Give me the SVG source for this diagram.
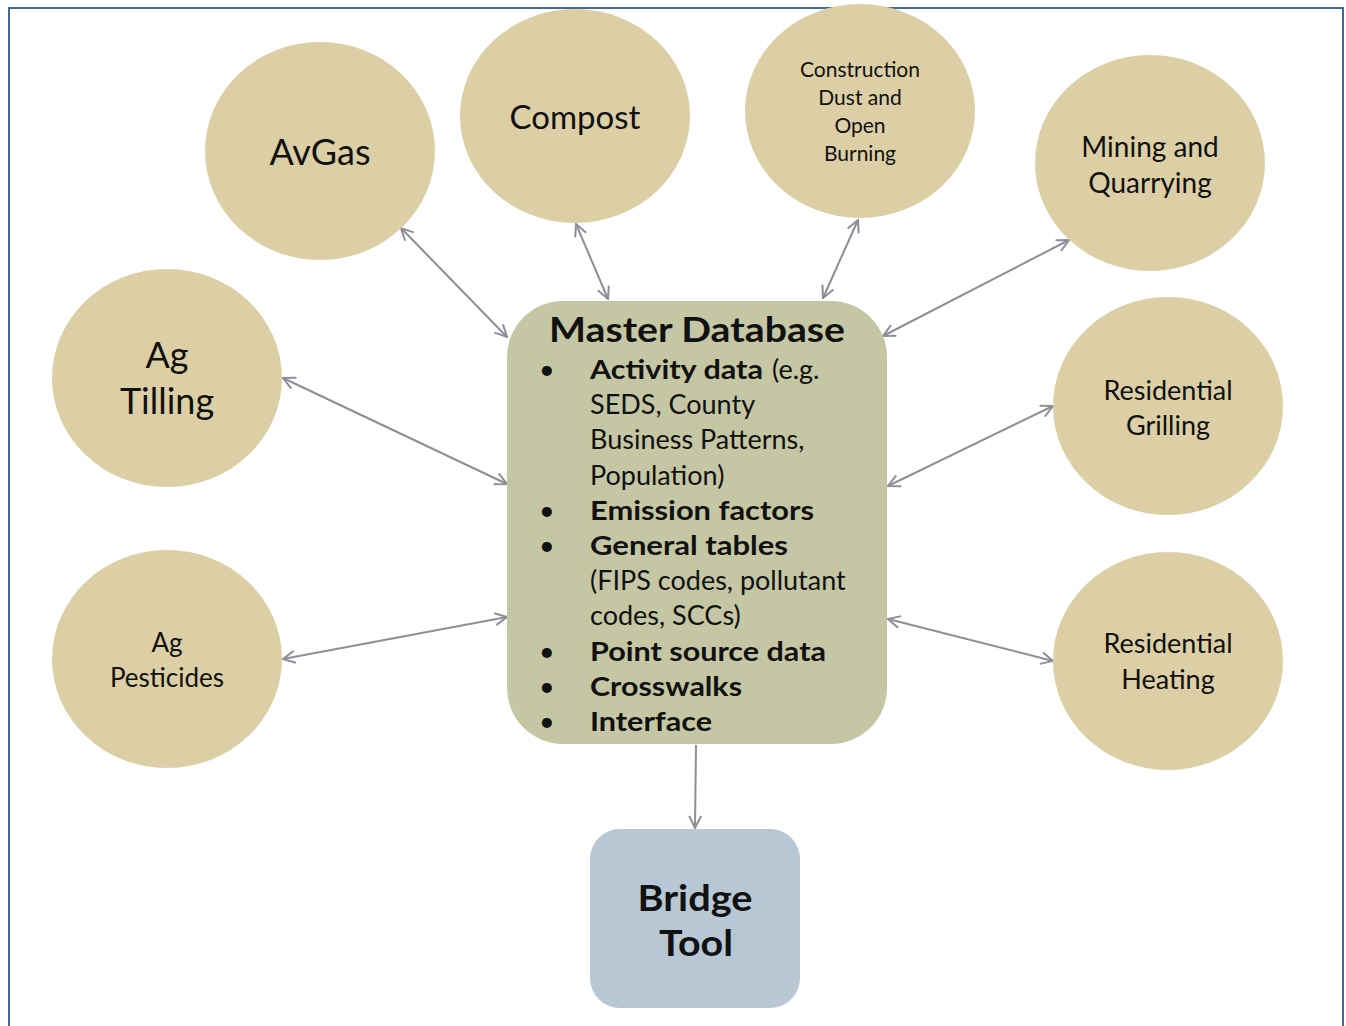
<svg xmlns="http://www.w3.org/2000/svg" width="1346" height="1026" viewBox="0 0 1346 1026">
<style>
.c{fill:#dccfa6}
.t{font-family:Lato,"Open Sans",sans-serif;fill:#111;text-anchor:middle}
.b{font-family:Lato,"Open Sans",sans-serif;fill:#111;font-size:27px}
.bb{font-weight:bold}
.ln{stroke:#8e8e96;stroke-width:2;fill:none}
</style>
<defs>
<marker id="ah" viewBox="0 0 14 14" refX="13" refY="7" markerWidth="14" markerHeight="14" markerUnits="userSpaceOnUse" orient="auto-start-reverse">
<path d="M1,1 L13,7 L1,13" fill="none" stroke="#8e8e96" stroke-width="2"/>
</marker>
</defs>
<rect width="1346" height="1026" fill="#fff"/>
<rect x="9" y="8" width="1334" height="1030" fill="none" stroke="#3f6a9e" stroke-width="2"/>
<g id="connectors">
<line class="ln" x1="401" y1="228" x2="507" y2="337" marker-start="url(#ah)" marker-end="url(#ah)"/>
<line class="ln" x1="576" y1="224" x2="608" y2="299" marker-start="url(#ah)" marker-end="url(#ah)"/>
<line class="ln" x1="858" y1="220" x2="823" y2="298" marker-start="url(#ah)" marker-end="url(#ah)"/>
<line class="ln" x1="1069" y1="240" x2="883" y2="336" marker-start="url(#ah)" marker-end="url(#ah)"/>
<line class="ln" x1="283" y1="378" x2="507" y2="484" marker-start="url(#ah)" marker-end="url(#ah)"/>
<line class="ln" x1="1053" y1="406" x2="888" y2="486" marker-start="url(#ah)" marker-end="url(#ah)"/>
<line class="ln" x1="283" y1="659" x2="507" y2="617" marker-start="url(#ah)" marker-end="url(#ah)"/>
<line class="ln" x1="1053" y1="661" x2="888" y2="619" marker-start="url(#ah)" marker-end="url(#ah)"/>
<line class="ln" x1="696" y1="745" x2="695" y2="828" marker-end="url(#ah)"/>
</g>
<g id="avgas"><ellipse class="c" cx="320" cy="151" rx="115" ry="109"/><text class="t" x="320" y="165" font-size="36">AvGas</text></g>
<g id="compost"><ellipse class="c" cx="575" cy="116" rx="115" ry="107"/><text class="t" x="575" y="129" font-size="33">Compost</text></g>
<g id="construction"><ellipse class="c" cx="860" cy="111" rx="115" ry="107"/>
<text class="t" font-size="21"><tspan x="860" y="77">Construction</tspan><tspan x="860" y="105">Dust and</tspan><tspan x="860" y="133">Open</tspan><tspan x="860" y="161">Burning</tspan></text></g>
<g id="mining"><ellipse class="c" cx="1150" cy="163" rx="115" ry="108"/>
<text class="t" font-size="28"><tspan x="1150" y="157">Mining and</tspan><tspan x="1150" y="193">Quarrying</tspan></text></g>
<g id="agtilling"><ellipse class="c" cx="167" cy="378" rx="115" ry="109"/>
<text class="t" font-size="36"><tspan x="167" y="368">Ag</tspan><tspan x="167" y="414">Tilling</tspan></text></g>
<g id="grilling"><ellipse class="c" cx="1168" cy="406" rx="115" ry="109"/>
<text class="t" font-size="27"><tspan x="1168" y="400">Residential</tspan><tspan x="1168" y="435">Grilling</tspan></text></g>
<g id="pesticides"><ellipse class="c" cx="167" cy="659" rx="115" ry="109"/>
<text class="t" font-size="26"><tspan x="167" y="652">Ag</tspan><tspan x="167" y="687">Pesticides</tspan></text></g>
<g id="heating"><ellipse class="c" cx="1168" cy="661" rx="115" ry="109"/>
<text class="t" font-size="27"><tspan x="1168" y="653">Residential</tspan><tspan x="1168" y="689">Heating</tspan></text></g>
<g id="master">
<rect x="507" y="301" width="380" height="443" rx="56" fill="#c5c6a3"/>
<text class="t bb" x="697" y="342" font-size="34" textLength="296" lengthAdjust="spacingAndGlyphs">Master Database</text>
<g class="b">
<text x="539" y="379">•</text><text x="590" y="379" class="bb" textLength="173" lengthAdjust="spacingAndGlyphs">Activity data</text><text x="772" y="379">(e.g.</text>
<text x="590" y="414">SEDS, County</text>
<text x="590" y="449">Business Patterns,</text>
<text x="590" y="485">Population)</text>
<text x="539" y="520">•</text><text x="590" y="520" class="bb" textLength="224" lengthAdjust="spacingAndGlyphs">Emission factors</text>
<text x="539" y="555">•</text><text x="590" y="555" class="bb" textLength="198" lengthAdjust="spacingAndGlyphs">General tables</text>
<text x="590" y="590">(FIPS codes, pollutant</text>
<text x="590" y="625">codes, SCCs)</text>
<text x="539" y="661">•</text><text x="590" y="661" class="bb" textLength="236" lengthAdjust="spacingAndGlyphs">Point source data</text>
<text x="539" y="696">•</text><text x="590" y="696" class="bb" textLength="152" lengthAdjust="spacingAndGlyphs">Crosswalks</text>
<text x="539" y="731">•</text><text x="590" y="731" class="bb" textLength="122" lengthAdjust="spacingAndGlyphs">Interface</text>
</g>
</g>
<g id="bridge">
<rect x="590" y="829" width="210" height="179" rx="30" fill="#b7c7d4"/>
<text class="t bb" x="695" y="911" font-size="37" textLength="115" lengthAdjust="spacingAndGlyphs">Bridge</text>
<text class="t bb" x="696" y="956" font-size="37" textLength="74" lengthAdjust="spacingAndGlyphs">Tool</text>
</g>
</svg>
